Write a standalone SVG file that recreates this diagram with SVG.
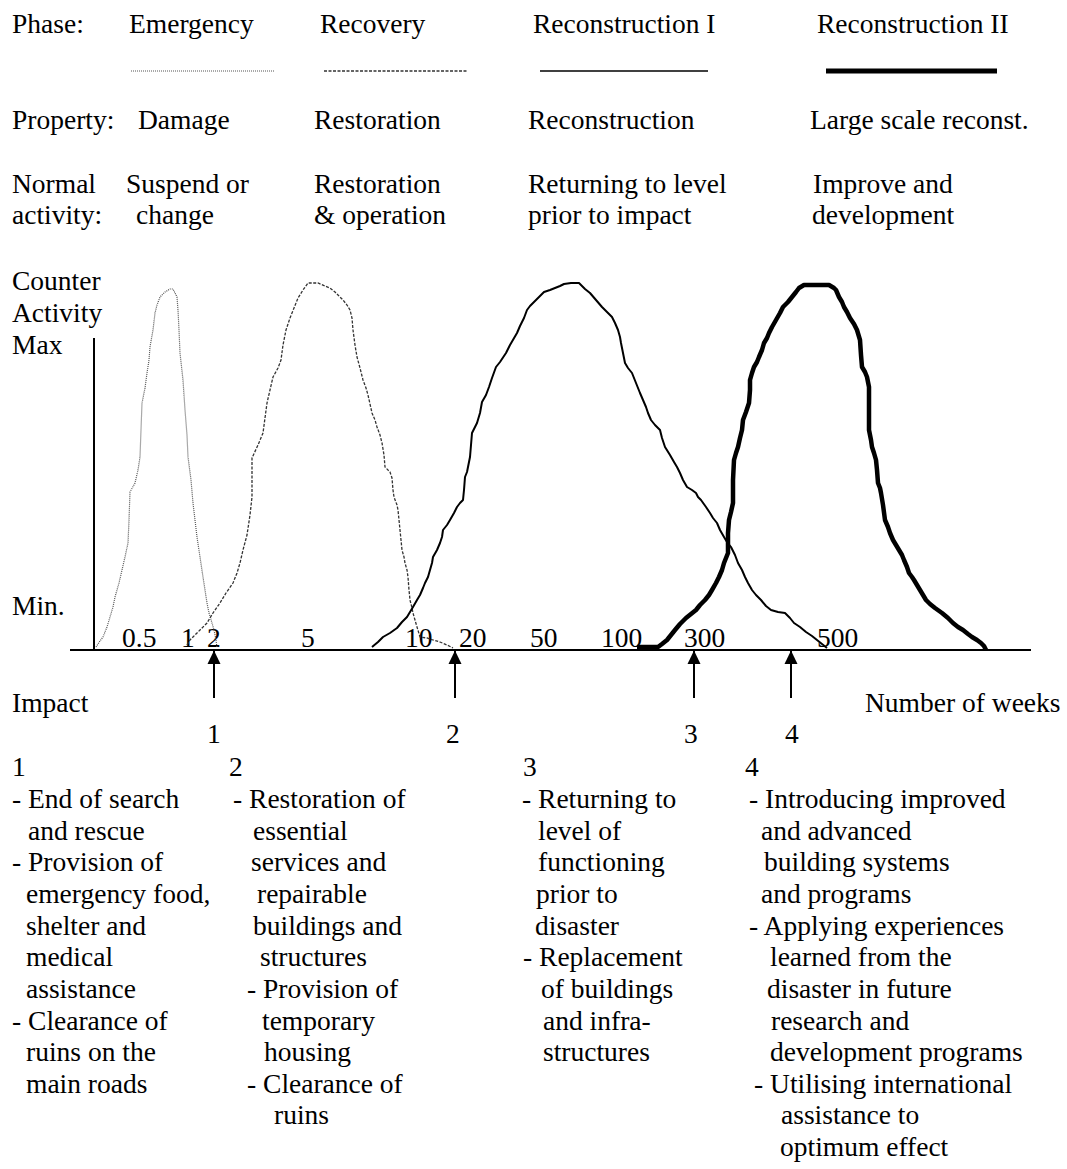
<svg xmlns="http://www.w3.org/2000/svg" width="1067" height="1169" viewBox="0 0 1067 1169" font-family="'Liberation Serif', 'Times New Roman', 'DejaVu Serif', serif">
<style>
text{font-family:'Liberation Serif','Times New Roman','DejaVu Serif',serif;font-size:27.5px;fill:#000}
.ax{stroke:#000;stroke-width:2;fill:none}
.em{stroke:#555;stroke-width:1.2;fill:none;stroke-dasharray:1 1}
.rc{stroke:#333;stroke-width:1.3;fill:none;stroke-dasharray:3 1.5}
.r1{stroke:#000;stroke-width:2;fill:none;stroke-linejoin:round}
.r2{stroke:#000;stroke-width:4.5;fill:none;stroke-linejoin:round}
.arr{stroke:#000;stroke-width:2;fill:none}
</style>
<defs>
<marker id="ah" viewBox="0 0 14 14" refX="13" refY="7" markerWidth="14" markerHeight="14" markerUnits="userSpaceOnUse" orient="auto">
<path d="M0,0.5 L13.5,7 L0,13.5 Z" fill="#000"/>
</marker>
</defs>
<rect width="1067" height="1169" fill="#fff"/>

<g id="header">
<text x="12" y="33">Phase:</text>
<text x="129" y="33">Emergency</text>
<text x="320" y="33">Recovery</text>
<text x="533" y="33">Reconstruction I</text>
<text x="817" y="33">Reconstruction II</text>
<line class="em" x1="131" y1="71" x2="275" y2="71"/>
<line class="rc" x1="324" y1="71" x2="467" y2="71"/>
<line x1="540" y1="71" x2="708" y2="71" stroke="#000" stroke-width="1.5"/>
<line x1="826" y1="71" x2="997" y2="71" stroke="#000" stroke-width="5"/>
<text x="12" y="129">Property:</text>
<text x="138" y="129">Damage</text>
<text x="314" y="129">Restoration</text>
<text x="528" y="129">Reconstruction</text>
<text x="810" y="129">Large scale reconst.</text>
<text x="12" y="193">Normal</text>
<text x="12" y="224">activity:</text>
<text x="126" y="193">Suspend or</text>
<text x="136" y="224">change</text>
<text x="314" y="193">Restoration</text>
<text x="314" y="224">&amp; operation</text>
<text x="528" y="193">Returning to level</text>
<text x="528" y="224">prior to impact</text>
<text x="813" y="193">Improve and</text>
<text x="812" y="224">development</text>
</g>

<g id="axes">
<text x="12" y="290">Counter</text>
<text x="12" y="322">Activity</text>
<text x="12" y="354">Max</text>
<text x="12" y="615">Min.</text>
<line class="ax" x1="94" y1="338" x2="94" y2="650"/>
<line class="ax" x1="70" y1="650" x2="1031" y2="650"/>
<text x="122" y="647">0.5</text>
<text x="181" y="647">1</text>
<text x="207" y="647">2</text>
<text x="301" y="647">5</text>
<text x="405" y="647">10</text>
<text x="459" y="647">20</text>
<text x="530" y="647">50</text>
<text x="601" y="647">100</text>
<text x="684" y="647">300</text>
<text x="817" y="647">500</text>
<text x="12" y="712">Impact</text>
<text x="865" y="712">Number of weeks</text>
</g>

<g id="curves">
<path id="curve-emergency" class="em" d="M96,647 L100,641 L103,637 L107,627 L110,617 L113,607 L115,597 L119,583 L122,570 L125,557 L128,543 L129,520 L130,492 L135,483 L138,470 L140,457 L141,430 L142,403 L145,388 L147,373 L149,360 L150,347 L153,330 L155,313 L157,305 L160,297 L165,292 L170,289 L173,289 L177,297 L178,310 L179,330 L180,353 L183,380 L185,410 L187,435 L188,457 L191,480 L193,503 L195,520 L197,537 L200,557 L203,577 L205,590 L207,603 L209,613 L212,623 L214,630 L216,640 L217,648"/>
<path id="curve-recovery" class="rc" d="M187,645 L190,640 L193,637 L200,630 L207,623 L213,613 L220,603 L226,593 L233,583 L237,573 L240,563 L243,550 L247,535 L250,515 L252,497 L252,475 L252,458 L258,445 L263,433 L265,418 L267,403 L270,390 L273,377 L278,368 L281,360 L283,345 L286,330 L290,318 L294,308 L298,298 L303,290 L308,283 L318,283 L325,286 L330,288 L335,292 L338,295 L343,300 L347,305 L350,310 L352,318 L353,330 L355,345 L357,357 L360,368 L363,380 L366,388 L368,395 L370,404 L372,413 L375,420 L377,427 L380,435 L382,443 L384,455 L385,467 L390,472 L392,478 L393,490 L394,497 L397,505 L398,510 L399,520 L400,530 L401,540 L402,550 L404,557 L405,563 L407,570 L408,577 L409,590 L410,600 L412,608 L413,613 L415,620 L417,627 L420,637 L427,638 L433,640 L440,642 L447,645 L453,648"/>
<path id="curve-recon1" class="r1" d="M372,647 L378,642 L383,637 L390,633 L397,628 L402,622 L407,617 L410,612 L413,607 L417,600 L420,595 L423,588 L425,583 L428,577 L430,570 L432,563 L433,557 L437,550 L440,543 L442,537 L443,530 L447,525 L450,520 L454,513 L457,507 L460,503 L463,500 L464,490 L465,477 L467,472 L468,467 L469,462 L470,457 L471,445 L472,433 L476,425 L477,423 L480,413 L482,402 L486,395 L489,387 L492,378 L496,367 L500,362 L506,353 L510,345 L517,333 L520,326 L524,318 L527,310 L530,306 L536,300 L539,297 L544,292 L550,290 L555,288 L560,286 L564,284 L571,283 L579,283 L585,289 L590,293 L596,300 L602,307 L607,312 L612,317 L615,323 L618,330 L620,337 L621,343 L623,353 L625,363 L628,368 L632,373 L636,383 L640,393 L643,400 L646,407 L648,413 L651,420 L655,425 L660,430 L662,438 L665,447 L670,455 L674,462 L677,467 L680,473 L683,480 L687,487 L692,490 L696,493 L698,497 L701,500 L706,507 L710,513 L713,518 L717,523 L720,530 L724,537 L727,542 L731,547 L735,555 L738,563 L742,570 L745,577 L748,583 L752,590 L756,595 L761,600 L766,606 L771,610 L778,612 L785,613 L790,618 L794,623 L800,627 L806,632 L812,636 L817,640 L822,644 L827,648"/>
<path id="curve-recon2" class="r2" d="M637,647 L658,647 L662,644 L667,640 L671,635 L675,630 L680,624 L686,618 L691,614 L696,610 L700,605 L705,600 L709,595 L712,590 L716,583 L719,577 L722,570 L724,563 L726,558 L728,553 L728,533 L729,520 L731,512 L733,503 L733,480 L734,460 L736,453 L738,447 L740,438 L742,430 L743,420 L746,412 L749,403 L750,390 L750,380 L752,373 L754,367 L757,362 L759,357 L762,350 L764,343 L767,338 L769,333 L772,327 L776,320 L780,313 L783,307 L788,302 L792,297 L796,292 L799,288 L804,285 L829,285 L834,288 L836,290 L839,297 L842,302 L844,307 L847,312 L850,318 L854,324 L857,330 L860,340 L861,355 L862,367 L865,372 L867,377 L869,387 L869,430 L871,440 L872,447 L874,453 L876,460 L877,470 L878,483 L880,488 L881,493 L883,505 L885,520 L888,527 L890,533 L893,540 L896,545 L899,550 L902,555 L904,560 L907,567 L909,573 L912,577 L914,580 L917,585 L920,590 L923,595 L926,600 L930,604 L935,608 L942,613 L948,618 L953,623 L958,627 L963,630 L968,634 L972,637 L977,640 L981,643 L984,646 L986,650"/>
</g>

<g id="connectors">
<line class="arr" x1="214" y1="698" x2="214" y2="651" marker-end="url(#ah)"/>
<line class="arr" x1="455" y1="698" x2="455" y2="651" marker-end="url(#ah)"/>
<line class="arr" x1="694" y1="698" x2="694" y2="651" marker-end="url(#ah)"/>
<line class="arr" x1="791" y1="698" x2="791" y2="651" marker-end="url(#ah)"/>
</g>

<g id="impact-labels">
<text x="207" y="743">1</text>
<text x="446" y="743">2</text>
<text x="684" y="743">3</text>
<text x="785" y="743">4</text>
</g>

<g id="list1">
<text x="12" y="776">1</text>
<text x="12" y="808">- End of search</text>
<text x="28" y="840">and rescue</text>
<text x="12" y="871">- Provision of</text>
<text x="26" y="903">emergency food,</text>
<text x="26" y="935">shelter and</text>
<text x="26" y="966">medical</text>
<text x="26" y="998">assistance</text>
<text x="12" y="1030">- Clearance of</text>
<text x="26" y="1061">ruins on the</text>
<text x="26" y="1093">main roads</text>
</g>

<g id="list2">
<text x="229" y="776">2</text>
<text x="233" y="808">- Restoration of</text>
<text x="253" y="840">essential</text>
<text x="251" y="871">services and</text>
<text x="257" y="903">repairable</text>
<text x="253" y="935">buildings and</text>
<text x="260" y="966">structures</text>
<text x="247" y="998">- Provision of</text>
<text x="262" y="1030">temporary</text>
<text x="264" y="1061">housing</text>
<text x="247" y="1093">- Clearance of</text>
<text x="274" y="1124">ruins</text>
</g>

<g id="list3">
<text x="523" y="776">3</text>
<text x="522" y="808">- Returning to</text>
<text x="538" y="840">level of</text>
<text x="538" y="871">functioning</text>
<text x="536" y="903">prior to</text>
<text x="535" y="935">disaster</text>
<text x="523" y="966">- Replacement</text>
<text x="541" y="998">of buildings</text>
<text x="543" y="1030">and infra-</text>
<text x="543" y="1061">structures</text>
</g>

<g id="list4">
<text x="745" y="776">4</text>
<text x="749" y="808">- Introducing improved</text>
<text x="761" y="840">and advanced</text>
<text x="764" y="871">building systems</text>
<text x="761" y="903">and programs</text>
<text x="749" y="935">- Applying experiences</text>
<text x="770" y="966">learned from the</text>
<text x="767" y="998">disaster in future</text>
<text x="771" y="1030">research and</text>
<text x="770" y="1061">development programs</text>
<text x="754" y="1093">- Utilising international</text>
<text x="781" y="1124">assistance to</text>
<text x="780" y="1156">optimum effect</text>
</g>
</svg>
